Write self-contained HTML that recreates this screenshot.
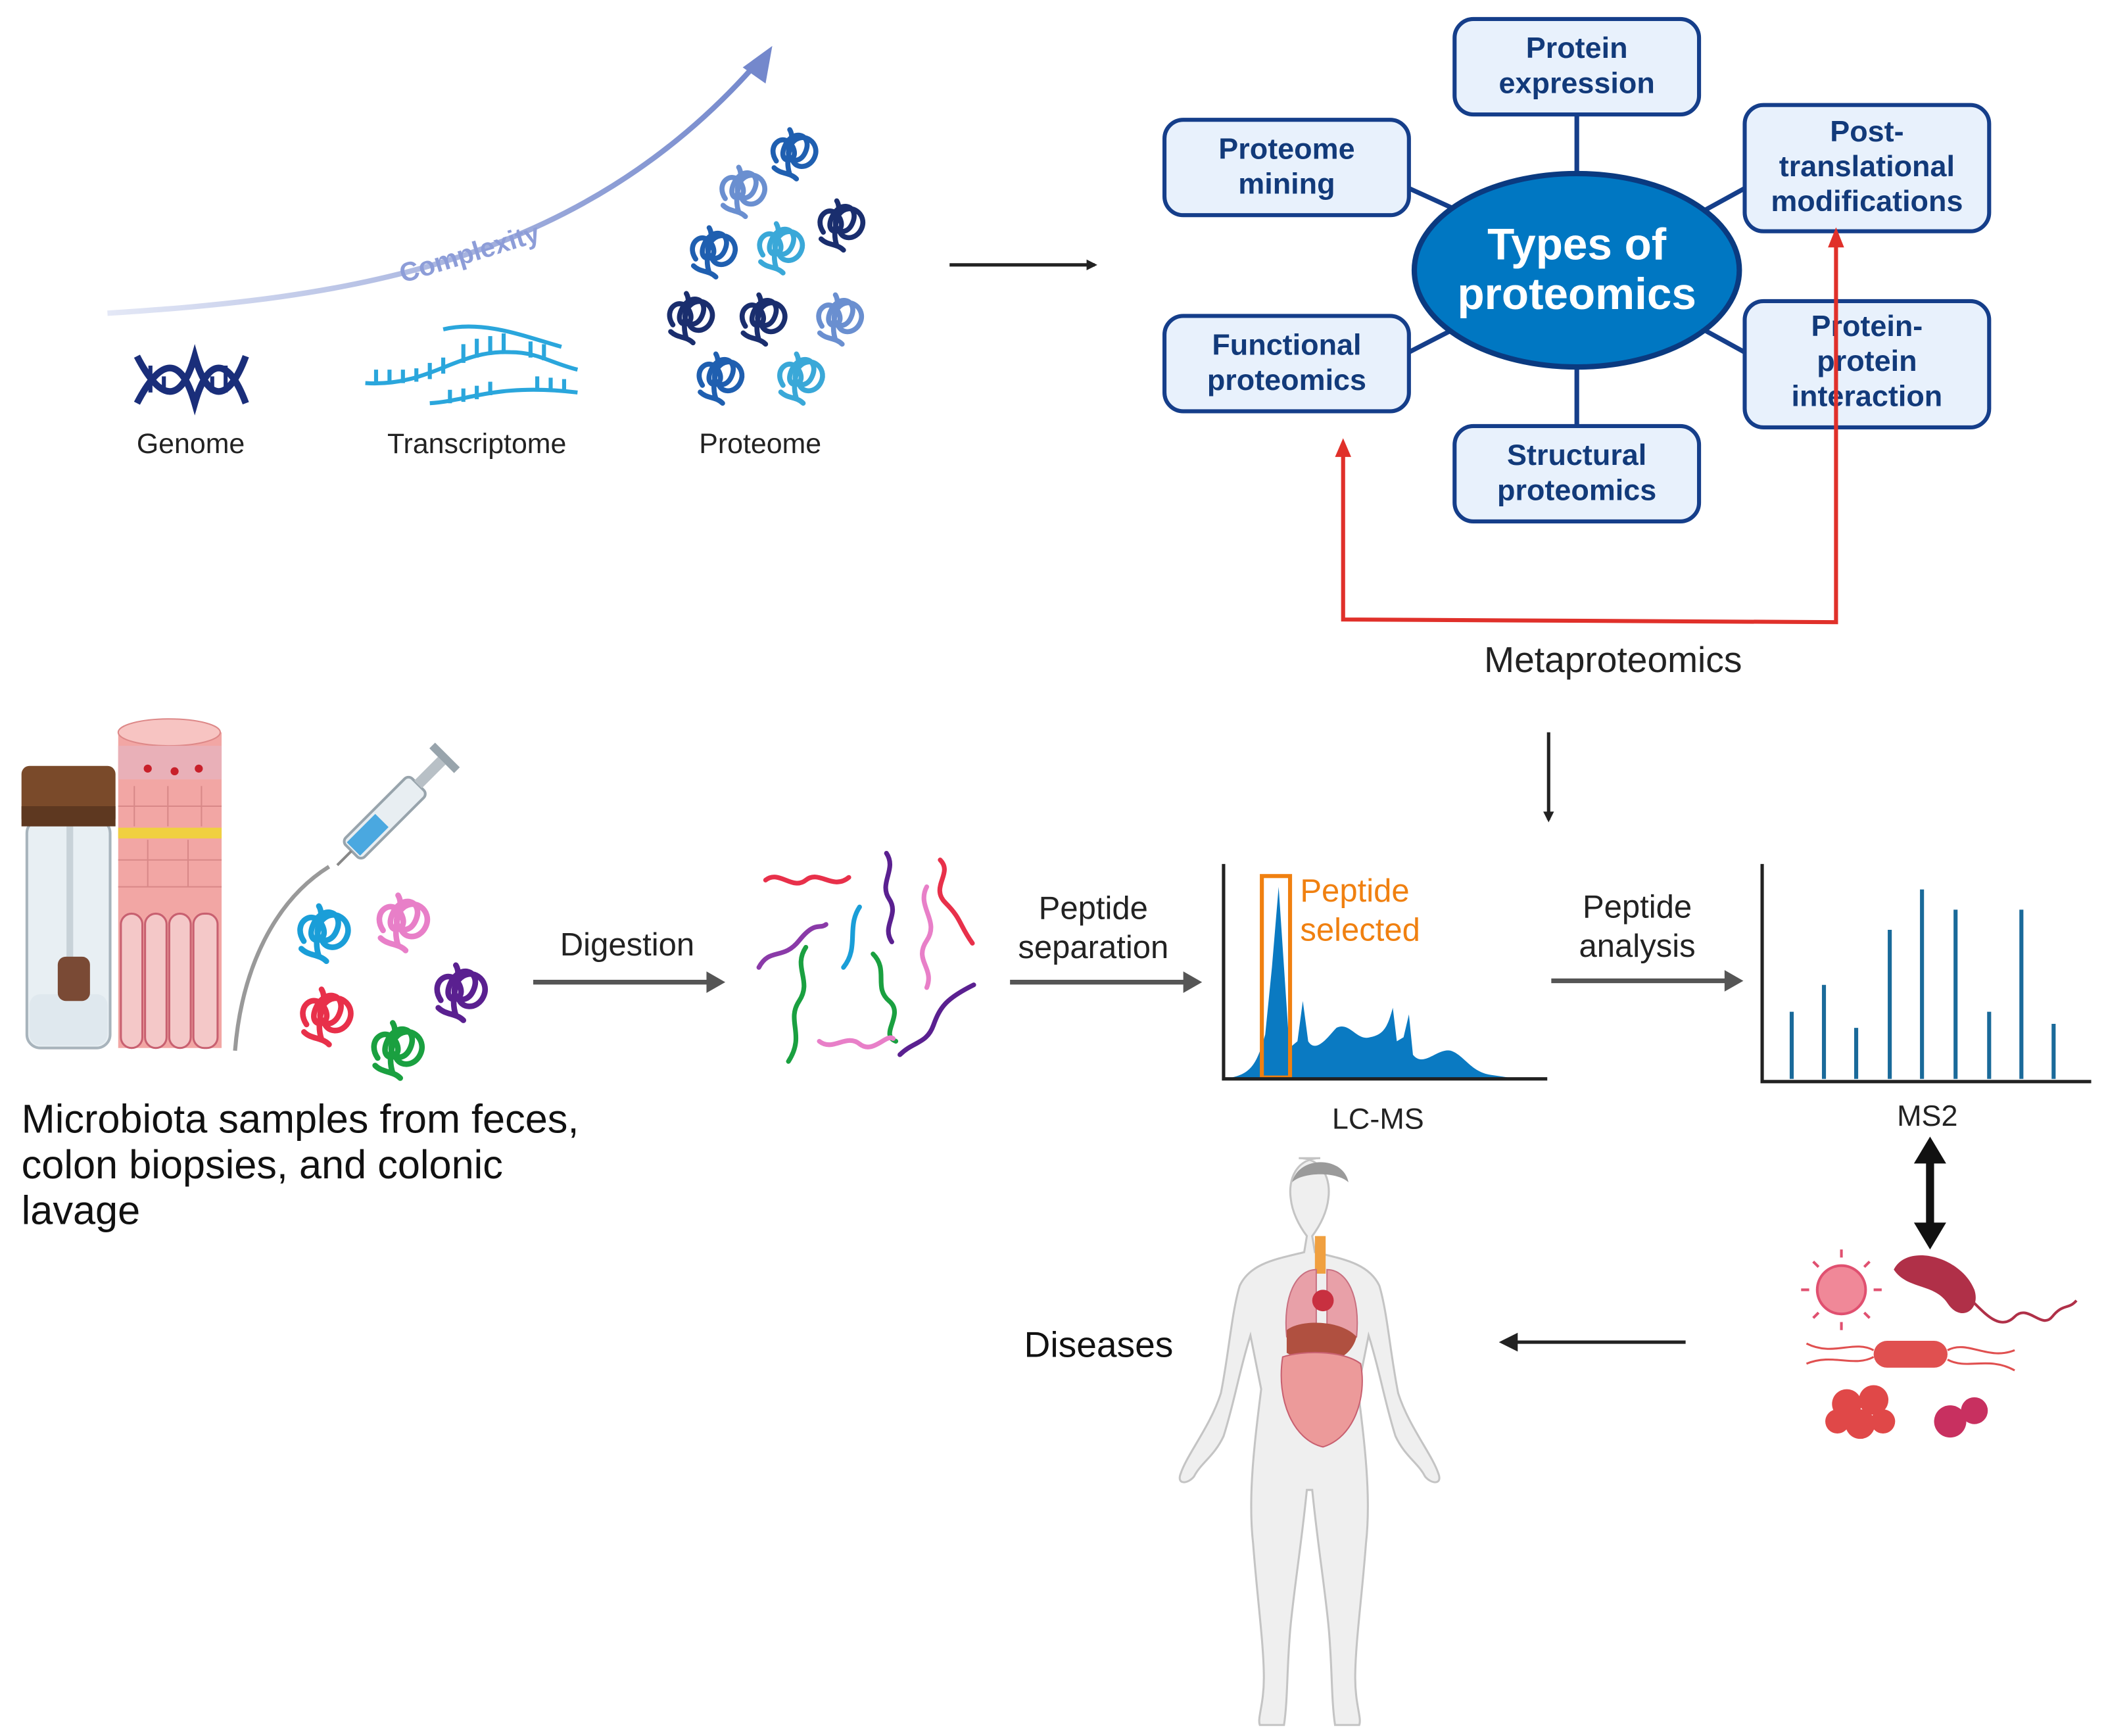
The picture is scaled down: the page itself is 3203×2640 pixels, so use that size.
<!DOCTYPE html>
<html><head><meta charset="utf-8"><style>
html,body{margin:0;padding:0;background:#fff;}
svg{display:block;}
text{font-family:"Liberation Sans",sans-serif;}
</style></head><body>
<svg width="3203" height="2640" viewBox="0 0 1568 1292" xmlns="http://www.w3.org/2000/svg">
<defs>
<linearGradient id="cg" x1="0" y1="0" x2="1" y2="0">
<stop offset="0" stop-color="#e4e8f6"/><stop offset="1" stop-color="#7488cc"/></linearGradient>
<symbol id="blob" viewBox="-30 -30 60 60" overflow="visible">
<path d="M-18,8 c-10,-15 8,-27 15,-12 c6,14 -14,16 -8,0 c7,-18 26,-12 19,4 c-6,14 -22,6 -12,-8 c10,-12 26,0 20,13 c-5,11 -19,10 -20,0 M-6,-20 c6,10 -6,22 0,40 M-20,14 c6,6 14,4 20,10" fill="none" stroke="currentColor" stroke-width="4.5" stroke-linecap="round"/>
</symbol>
<marker id="ab" markerWidth="8" markerHeight="8" refX="6" refY="4" orient="auto" markerUnits="userSpaceOnUse"><path d="M0,0 L8,4 L0,8z" fill="#222"/></marker>
</defs>

<path d="M80,233 C250,222 430,200 565,45" fill="none" stroke="url(#cg)" stroke-width="4"/>
<path d="M575,34 L570,62 L553,50 z" fill="#7488cc"/>
<text x="350" y="195" font-size="20" font-weight="bold" fill="#8d9dd8" text-anchor="middle" transform="rotate(-17 350 190)">Complexity</text>

<g stroke="#1a2e7a" stroke-width="5" fill="none">
<path d="M102,265 C120,300 135,300 145,265 C155,300 170,300 183,265"/>
<path d="M102,300 C120,265 135,265 145,300 C155,265 170,265 183,300"/>
<path d="M112,272v20M122,280v12M168,272v20M158,280v12" stroke-width="3"/>
</g>
<g stroke="#2aa6dc" stroke-width="3" fill="none">
<path d="M272,285 C320,288 340,260 380,262 C400,262 410,270 430,275"/>
<path d="M320,300 C350,298 370,285 430,292"/>
<path d="M330,245 C360,238 390,250 418,258"/>
<path d="M280,285v-10M290,285v-10M300,285v-10M310,284v-10M320,282v-12M330,278v-12M345,270v-14M355,266v-14M365,264v-14M375,262v-14M335,300v-10M345,299v-10M355,297v-10M365,294v-10M400,290v-10M410,291v-10M420,292v-10M395,266v-12M405,268v-12"/>
</g>
<text x="142" y="337" font-size="21" fill="#222" text-anchor="middle">Genome</text>
<text x="355" y="337" font-size="21" fill="#222" text-anchor="middle">Transcriptome</text>
<text x="566" y="337" font-size="21" fill="#222" text-anchor="middle">Proteome</text>

<use href="#blob" x="568" y="88" width="50" height="50" color="#1f5fb0"/>
<use href="#blob" x="530" y="116" width="50" height="50" color="#6a8fd0"/>
<use href="#blob" x="603" y="141" width="50" height="50" color="#1a2e6e"/>
<use href="#blob" x="508" y="161" width="50" height="50" color="#1f5fb0"/>
<use href="#blob" x="558" y="158" width="50" height="50" color="#3aa8d8"/>
<use href="#blob" x="491" y="210" width="50" height="50" color="#1a2e6e"/>
<use href="#blob" x="545" y="211" width="50" height="50" color="#1a2e6e"/>
<use href="#blob" x="602" y="211" width="50" height="50" color="#6a8fd0"/>
<use href="#blob" x="513" y="255" width="50" height="50" color="#1f5fb0"/>
<use href="#blob" x="573" y="255" width="50" height="50" color="#3aa8d8"/>

<line x1="707" y1="197" x2="815" y2="197" stroke="#222" stroke-width="2.5" marker-end="url(#ab)"/>

<g stroke="#153e8a" stroke-width="3.5">
<line x1="1174" y1="85" x2="1174" y2="130"/>
<line x1="1174" y1="272" x2="1174" y2="317"/>
<line x1="1049" y1="140" x2="1082" y2="155"/>
<line x1="1049" y1="262" x2="1082" y2="245"/>
<line x1="1299" y1="140" x2="1268" y2="157"/>
<line x1="1299" y1="262" x2="1268" y2="245"/>
</g>
<ellipse cx="1174" cy="201" rx="121" ry="72" fill="#0077c2" stroke="#0a3a80" stroke-width="4"/>
<text x="1174" y="193" font-size="33" font-weight="bold" fill="#fff" text-anchor="middle">Types of</text>
<text x="1174" y="230" font-size="33" font-weight="bold" fill="#fff" text-anchor="middle">proteomics</text>
<g fill="#e8f1fc" stroke="#153e8a" stroke-width="3">
<rect x="1083" y="14" width="182" height="71" rx="14"/>
<rect x="867" y="89" width="182" height="71" rx="14"/>
<rect x="1299" y="78" width="182" height="94" rx="14"/>
<rect x="867" y="235" width="182" height="71" rx="14"/>
<rect x="1299" y="224" width="182" height="94" rx="14"/>
<rect x="1083" y="317" width="182" height="71" rx="14"/>
</g>
<g font-size="22" font-weight="bold" fill="#123a7a" text-anchor="middle">
<text x="1174" y="43">Protein</text><text x="1174" y="69">expression</text>
<text x="958" y="118">Proteome</text><text x="958" y="144">mining</text>
<text x="1390" y="105">Post-</text><text x="1390" y="131">translational</text><text x="1390" y="157">modifications</text>
<text x="958" y="264">Functional</text><text x="958" y="290">proteomics</text>
<text x="1390" y="250">Protein-</text><text x="1390" y="276">protein</text><text x="1390" y="302">interaction</text>
<text x="1174" y="346">Structural</text><text x="1174" y="372">proteomics</text>
</g>
<path d="M1000,338 L1000,461 L1367,463 L1367,182" fill="none" stroke="#e0302a" stroke-width="3"/>
<path d="M1000,326 L994,340 L1006,340z M1367,169 L1361,184 L1373,184z" fill="#e0302a"/>
<text x="1201" y="500" font-size="27" fill="#222" text-anchor="middle">Metaproteomics</text>
<line x1="1153" y1="545" x2="1153" y2="610" stroke="#222" stroke-width="2.5" marker-end="url(#ab)"/>

<rect x="20" y="610" width="62" height="170" rx="10" fill="#e8eff3" stroke="#a8b4bc" stroke-width="2"/>
<rect x="22" y="740" width="58" height="38" rx="8" fill="#dfe8ee"/>
<line x1="52" y1="615" x2="52" y2="715" stroke="#c8d2d8" stroke-width="5"/>
<rect x="43" y="712" width="24" height="33" rx="6" fill="#7a4a35"/>
<rect x="16" y="570" width="70" height="45" rx="6" fill="#7a4a2a"/>
<rect x="16" y="600" width="70" height="15" fill="#5e3820"/>
<rect x="88" y="545" width="77" height="235" fill="#f2a6a4"/>
<ellipse cx="126" cy="545" rx="38" ry="10" fill="#f7c4c2" stroke="#d88"/>
<rect x="88" y="555" width="77" height="25" fill="#e9b0b8"/>
<g fill="#c8202a"><circle cx="110" cy="572" r="3"/><circle cx="130" cy="574" r="3"/><circle cx="148" cy="572" r="3"/></g>
<rect x="88" y="616" width="77" height="8" fill="#f0d040"/>
<g stroke="#d88888" stroke-width="1"><path d="M88,600h77M88,640h77M88,660h77M100,585v30M125,585v30M150,585v30M110,625v35M140,625v35"/></g>
<g fill="#f4c8c8" stroke="#c86070" stroke-width="1.5">
<rect x="90" y="680" width="16" height="100" rx="8"/><rect x="108" y="680" width="16" height="100" rx="8"/><rect x="126" y="680" width="16" height="100" rx="8"/><rect x="144" y="680" width="18" height="100" rx="8"/></g>
<path d="M175,782 C180,720 205,670 245,645" fill="none" stroke="#999" stroke-width="3"/>
<g transform="rotate(-45 290 605)">
<rect x="250" y="595" width="70" height="20" rx="4" fill="#e8eef2" stroke="#98a4ac" stroke-width="2"/>
<rect x="252" y="598" width="30" height="14" fill="#4aa8e0"/>
<rect x="320" y="601" width="25" height="8" fill="#b8c0c6"/>
<rect x="345" y="592" width="6" height="26" fill="#98a4ac"/>
<line x1="235" y1="605" x2="250" y2="605" stroke="#888" stroke-width="2"/>
</g>
<use href="#blob" x="215" y="665" width="56" height="56" color="#1a9ed8"/>
<use href="#blob" x="274" y="657" width="56" height="56" color="#e87fc8"/>
<use href="#blob" x="217" y="727" width="56" height="56" color="#e8304a"/>
<use href="#blob" x="317" y="709" width="56" height="56" color="#5a2090"/>
<use href="#blob" x="270" y="752" width="56" height="56" color="#1aa040"/>
<g font-size="30" fill="#111">
<text x="16" y="843">Microbiota samples from feces,</text>
<text x="16" y="877">colon biopsies, and colonic</text>
<text x="16" y="911">lavage</text></g>

<g stroke="#555" stroke-width="3.5"><line x1="397" y1="731" x2="528" y2="731"/><line x1="752" y1="731" x2="883" y2="731"/><line x1="1155" y1="730" x2="1286" y2="730"/></g>
<g fill="#555"><path d="M540,731 l-14,-8 v16z M895,731 l-14,-8 v16z M1298,730 l-14,-8 v16z"/></g>
<g font-size="24" fill="#222" text-anchor="middle">
<text x="467" y="711">Digestion</text>
<text x="814" y="684">Peptide</text><text x="814" y="713">separation</text>
<text x="1219" y="683">Peptide</text><text x="1219" y="712">analysis</text>
</g>
<g fill="none" stroke-width="3.5" stroke-linecap="round">
<path d="M570,655 c10,-8 20,8 30,0 s20,8 32,-2" stroke="#e8304a"/>
<path d="M660,635 c8,12 -6,22 2,34 s-6,20 2,32" stroke="#5a2090"/>
<path d="M700,640 c10,10 -8,20 4,32 s10,16 20,30" stroke="#e8304a"/>
<path d="M690,660 c-8,15 10,25 0,40 s6,20 0,35" stroke="#e87fc8"/>
<path d="M565,720 c8,-15 18,-5 30,-20 s15,-8 20,-12" stroke="#8a3aa8"/>
<path d="M640,675 c-10,15 0,30 -12,45" stroke="#1a9ed8"/>
<path d="M600,705 c-10,15 5,25 -5,40 s5,25 -8,45" stroke="#1aa040"/>
<path d="M650,710 c12,12 0,25 12,35 s-8,25 5,30" stroke="#1aa040"/>
<path d="M610,775 c10,8 20,-6 30,2 s20,-8 25,-4" stroke="#e87fc8"/>
<path d="M670,785 c10,-10 20,-8 25,-22 s10,-20 30,-30" stroke="#5a2090"/>
</g>

<path d="M912,803 C930,800 935,795 942,770 L947,720 L952,660 L956,720 L960,780 L966,775 L970,745 L974,775 C980,785 990,770 995,765 C1005,760 1010,775 1020,772 C1030,770 1033,765 1037,750 L1040,775 L1045,772 L1049,755 L1052,785 C1060,795 1070,780 1080,782 C1090,785 1095,798 1110,800 L1130,803z" fill="#0a7ac2"/>
<rect x="939.5" y="652" width="21" height="150" fill="none" stroke="#f08010" stroke-width="3"/>
<path d="M911,643 V803 H1152" fill="none" stroke="#222" stroke-width="2.5"/>
<text x="968" y="671" font-size="24" fill="#f08010">Peptide</text>
<text x="968" y="700" font-size="24" fill="#f08010">selected</text>
<text x="1026" y="840" font-size="22" fill="#222" text-anchor="middle">LC-MS</text>

<g stroke="#1a6a9a" stroke-width="3">
<line x1="1334" y1="803" x2="1334" y2="753"/><line x1="1358" y1="803" x2="1358" y2="733"/><line x1="1382" y1="803" x2="1382" y2="765"/><line x1="1407" y1="803" x2="1407" y2="692"/><line x1="1431" y1="803" x2="1431" y2="662"/><line x1="1456" y1="803" x2="1456" y2="677"/><line x1="1481" y1="803" x2="1481" y2="753"/><line x1="1505" y1="803" x2="1505" y2="677"/><line x1="1529" y1="803" x2="1529" y2="762"/>
</g>
<path d="M1312,643 V805 H1557" fill="none" stroke="#222" stroke-width="2.5"/>
<text x="1435" y="838" font-size="22" fill="#222" text-anchor="middle">MS2</text>
<line x1="1437" y1="862" x2="1437" y2="914" stroke="#111" stroke-width="6"/>
<path d="M1437,846 l-12,20 h24z M1437,930 l-12,-20 h24z" fill="#111"/>

<circle cx="1371" cy="960" r="18" fill="#f08898" stroke="#e05070" stroke-width="2"/>
<g stroke="#e05070" stroke-width="2"><path d="M1371,936v-6M1371,984v6M1347,960h-6M1395,960h6M1354,943l-4,-4M1388,977l4,4M1388,943l4,-4M1354,977l-4,4"/></g>
<path d="M1410,945 C1420,925 1460,935 1470,960 C1475,975 1460,985 1450,970 C1440,955 1420,960 1410,945z" fill="#b03048"/>
<path d="M1470,970 c10,10 20,20 30,10 s20,10 28,0 s12,-5 18,-12" fill="none" stroke="#b03048" stroke-width="2"/>
<rect x="1395" y="998" width="55" height="20" rx="10" fill="#e05050"/>
<path d="M1395,1005 c-15,-8 -30,5 -50,-5 M1395,1010 c-15,8 -30,-3 -50,5 M1450,1005 c15,-8 30,8 50,0 M1450,1012 c15,8 30,-3 50,8" fill="none" stroke="#e05050" stroke-width="1.5"/>
<g fill="#e04848"><circle cx="1375" cy="1045" r="11"/><circle cx="1395" cy="1042" r="11"/><circle cx="1385" cy="1060" r="11"/><circle cx="1368" cy="1058" r="9"/><circle cx="1402" cy="1058" r="9"/></g>
<circle cx="1452" cy="1058" r="12" fill="#c83060"/><circle cx="1470" cy="1050" r="10" fill="#c83060"/>

<line x1="1255" y1="999" x2="1128" y2="999" stroke="#222" stroke-width="2.5"/>
<path d="M1116,999 l14,-7 v14z" fill="#222"/>
<text x="818" y="1010" font-size="27" fill="#111" text-anchor="middle">Diseases</text>

<path d="M983,862 c-18,0 -24,16 -22,30 c1,10 6,20 12,28 l-2,12 c-20,5 -40,8 -48,25 c-6,20 -8,50 -14,80 c-8,25 -25,45 -30,60 c-3,8 5,8 10,2 c5,-10 15,-15 22,-30 c8,-25 12,-50 20,-75 l8,40 c-5,40 -10,80 -6,115 c3,40 8,75 8,100 c0,20 -5,30 -3,35 h18 c3,-20 2,-45 5,-75 c3,-30 8,-60 12,-100 h4 c4,40 9,70 12,100 c3,30 2,55 5,75 h18 c2,-5 -3,-15 -3,-35 c0,-25 5,-60 8,-100 c4,-35 -1,-75 -6,-115 l8,-40 c8,25 12,50 20,75 c7,15 17,20 22,30 c5,6 13,6 10,-2 c-5,-15 -22,-35 -30,-60 c-6,-30 -8,-60 -14,-80 c-8,-17 -28,-20 -48,-25 l-2,-12 c6,-8 11,-18 12,-28 c2,-14 -4,-30 -22,-30z" fill="#efefef" stroke="#c4c4c4" stroke-width="1.5"/>
<path d="M962,880 c5,-20 38,-20 42,0 c-8,-8 -34,-8 -42,0z" fill="#9a9a9a"/>
<rect x="979" y="920" width="8" height="28" fill="#f0a040"/>
<path d="M980,945 c-15,0 -25,20 -22,50 c10,5 20,0 22,-10z M988,945 c15,0 25,20 22,50 c-10,5 -20,0 -22,-10z" fill="#e8a0a8" stroke="#c87080"/>
<circle cx="985" cy="968" r="8" fill="#c83040"/>
<path d="M958,990 c10,-8 40,-8 52,5 c-5,20 -30,25 -52,12z" fill="#b05040"/>
<path d="M955,1010 c15,-5 45,-5 58,5 c5,25 -5,55 -28,62 c-22,-5 -35,-35 -30,-67z" fill="#ec9a9a" stroke="#c86070"/>
</svg>
</body></html>
